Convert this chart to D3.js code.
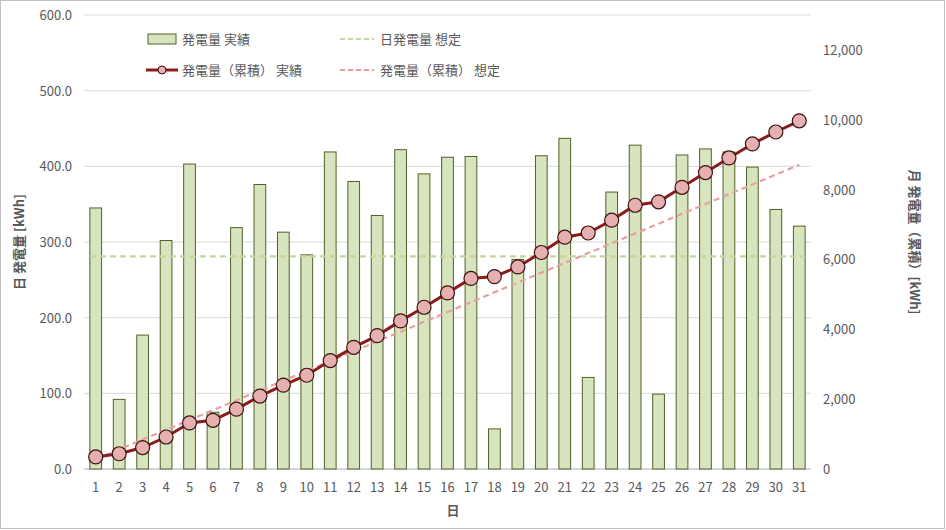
<!DOCTYPE html>
<html>
<head>
<meta charset="utf-8">
<script src="https://cdn.jsdelivr.net/npm/d3@7"></script>
<style>
body{margin:0;background:#fff;font-family:"Noto Sans CJK JP","Noto Sans",sans-serif;}
</style>
</head>
<body>
<svg id="c" width="946" height="530"></svg>
<script>
var days = d3.range(1, 32);
var daily = [345,92,177,302,403,75,319,376,313,283,419,380,335,422,390,412,413,53,277,414,437,121,366,428,99,415,423,419,399,343,321];
var cumul = [345,437,614,916,1319,1394,1713,2089,2402,2685,3104,3484,3819,4241,4631,5043,5456,5509,5786,6200,6637,6758,7124,7552,7651,8066,8489,8908,9307,9650,9971];
var planDaily = 281;
var planCumul = [281,562,843,1124,1405,1686,1967,2248,2529,2810,3091,3372,3653,3934,4215,4496,4777,5058,5339,5620,5901,6182,6463,6744,7025,7306,7587,7868,8149,8430,8711];

var svg = d3.select("#c");
var m = {l:84, r:811, t:15, b:469};
svg.append("rect").attr("x",0.5).attr("y",0.5).attr("width",944).attr("height",528)
  .attr("fill","#fff").attr("stroke","#bfbfbf");

var x = d3.scaleBand().domain(days).range([m.l, m.r]).paddingInner(0.5).paddingOuter(0.25);
var y = d3.scaleLinear().domain([0,600]).range([m.b, m.t]);
var y2 = d3.scaleLinear().domain([0,13000]).range([m.b, m.t]);
var cx = function(d){ return x(d) + x.bandwidth()/2; };

// grid
svg.append("g").selectAll("line").data(y.ticks(6)).join("line")
  .attr("x1",m.l).attr("x2",m.r).attr("y1",d=>y(d)).attr("y2",d=>y(d))
  .attr("stroke","#d9d9d9");

var txt = {fill:"#595959","font-size":"13px"};
svg.append("g").selectAll("text").data(y.ticks(6)).join("text")
  .attr("x",m.l-12).attr("y",d=>y(d)+5).attr("text-anchor","end")
  .attr("fill","#595959").attr("font-size","13px").text(d=>d3.format(".1f")(d));
svg.append("g").selectAll("text").data(d3.range(0,13000,2000)).join("text")
  .attr("x",m.r+12).attr("y",d=>y2(d)+5).attr("text-anchor","start")
  .attr("fill","#595959").attr("font-size","13px").text(d=>d3.format(",")(d));
svg.append("g").selectAll("text").data(days).join("text")
  .attr("x",cx).attr("y",m.b+23).attr("text-anchor","middle")
  .attr("fill","#595959").attr("font-size","13px").text(d=>d);
svg.append("line").attr("x1",m.l).attr("x2",m.r).attr("y1",m.b).attr("y2",m.b).attr("stroke","#bfbfbf");

// bars
svg.append("g").selectAll("rect").data(days).join("rect")
  .attr("x",d=>x(d)).attr("width",x.bandwidth())
  .attr("y",(d,i)=>y(daily[i])).attr("height",(d,i)=>m.b-y(daily[i]))
  .attr("fill","#d7e4bd").attr("stroke","#4f6228").attr("stroke-width",1);

// plan lines
svg.append("line").attr("x1",x(1)).attr("x2",x(31)+x.bandwidth())
  .attr("y1",y(planDaily)).attr("y2",y(planDaily))
  .attr("stroke","#c3d69b").attr("stroke-width",2.2).attr("stroke-dasharray","6,4");
svg.append("path").datum(days).attr("fill","none")
  .attr("stroke","#e6a0a0").attr("stroke-width",2.2).attr("stroke-dasharray","6,4")
  .attr("d", d3.line().x(cx).y((d,i)=>y2(planCumul[i])));

// cumulative actual
svg.append("path").datum(days).attr("fill","none")
  .attr("stroke","#8b1c1c").attr("stroke-width",3)
  .attr("d", d3.line().x(cx).y((d,i)=>y2(cumul[i])));
svg.append("g").selectAll("circle").data(days).join("circle")
  .attr("cx",cx).attr("cy",(d,i)=>y2(cumul[i])).attr("r",7)
  .attr("fill","#e6b0b0").attr("stroke","#3a0f0f").attr("stroke-width",1.2);

// axis titles
svg.append("text").attr("transform","translate(24,242) rotate(-90)").attr("text-anchor","middle")
  .attr("fill","#595959").attr("font-size","13px").attr("font-weight","bold").text("日 発電量 [kWh]");
svg.append("text").attr("transform","translate(910,242) rotate(90)").attr("text-anchor","middle")
  .attr("fill","#595959").attr("font-size","13px").attr("font-weight","bold").text("月 発電量（累積）[kWh]");
svg.append("text").attr("x",453).attr("y",515).attr("text-anchor","middle")
  .attr("fill","#595959").attr("font-size","13px").attr("font-weight","bold").text("日");

// legend
var lg = svg.append("g");
lg.append("rect").attr("x",148).attr("y",34).attr("width",28).attr("height",10)
  .attr("fill","#d7e4bd").attr("stroke","#4f6228");
lg.append("text").attr("x",182).attr("y",44).attr("fill","#595959").attr("font-size","13px").text("発電量 実績");
lg.append("line").attr("x1",340).attr("x2",374).attr("y1",39).attr("y2",39)
  .attr("stroke","#c3d69b").attr("stroke-width",2.2).attr("stroke-dasharray","5,3");
lg.append("text").attr("x",380).attr("y",44).attr("fill","#595959").attr("font-size","13px").text("日発電量 想定");
lg.append("line").attr("x1",146).attr("x2",178).attr("y1",70).attr("y2",70)
  .attr("stroke","#8b1c1c").attr("stroke-width",3);
lg.append("circle").attr("cx",162).attr("cy",70).attr("r",4)
  .attr("fill","#e6b0b0").attr("stroke","#3a0f0f");
lg.append("text").attr("x",182).attr("y",75).attr("fill","#595959").attr("font-size","13px").text("発電量（累積） 実績");
lg.append("line").attr("x1",340).attr("x2",374).attr("y1",70).attr("y2",70)
  .attr("stroke","#e6a0a0").attr("stroke-width",2.2).attr("stroke-dasharray","5,3");
lg.append("text").attr("x",380).attr("y",75).attr("fill","#595959").attr("font-size","13px").text("発電量（累積） 想定");
</script>
</body>
</html>
